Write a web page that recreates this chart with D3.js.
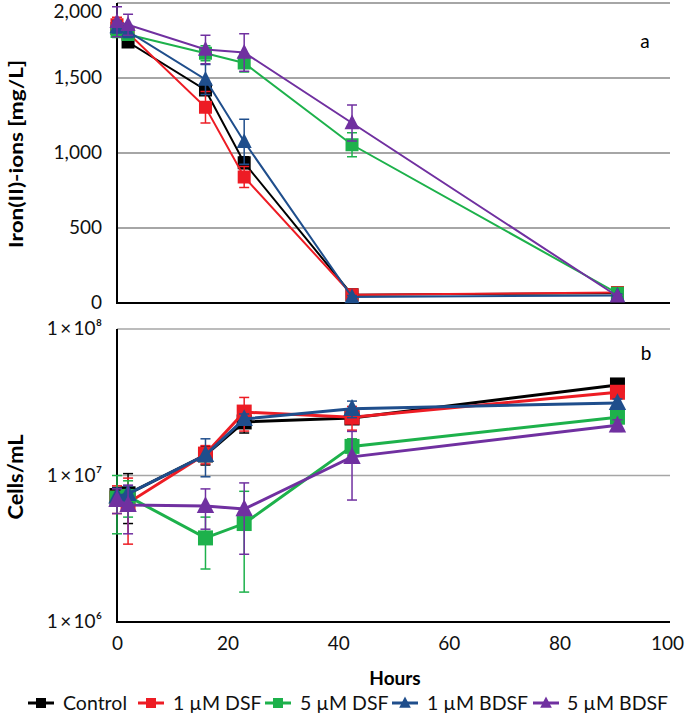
<!DOCTYPE html>
<html><head><meta charset="utf-8">
<script src="https://cdn.jsdelivr.net/npm/d3@7/dist/d3.min.js"></script>
<style>
body{margin:0;background:#fff;}
text{font-family:Lato,"Open Sans",sans-serif;}
</style></head>
<body><svg id="c" width="685" height="718"></svg>
<script>
const hours = [0, 2, 16, 23, 42.5, 90.5];
const seriesNames = ["Control", "1 µM DSF", "5 µM DSF", "1 µM BDSF", "5 µM BDSF"];
const seriesColors = ["#000000", "#ED1C24", "#1DB14B", "#1F4E8C", "#7030A0"];
const seriesShapes = ["square", "square", "square", "triangle", "triangle"];

const ironControl = [1830, 1740, 1420, 935, 55, 65];
const ironDSF1    = [1855, 1800, 1305, 840, 55, 70];
const ironDSF5    = [1810, 1790, 1665, 1600, 1055, 65];
const ironBDSF1   = [1840, 1810, 1490, 1075, 40, 50];
const ironBDSF5   = [1875, 1855, 1690, 1670, 1200, 45];
const ironErrControl = [40, 30, 30, 40, 10, 10];
const ironErrDSF1    = [50, 40, 105, 70, 10, 10];
const ironErrDSF5    = [40, 30, 50, 60, 80, 10];
const ironErrBDSF1   = [40, 40, 100, 150, 10, 10];
const ironErrBDSF5   = [100, 70, 95, 125, 120, 10];

const cellsControl = [7.3e6, 7.5e6, 1.38e7, 2.32e7, 2.47e7, 4.15e7];
const cellsDSF1    = [7.0e6, 6.5e6, 1.40e7, 2.71e7, 2.50e7, 3.70e7];
const cellsDSF5    = [7.0e6, 7.2e6, 3.75e6, 4.7e6, 1.58e7, 2.50e7];
const cellsBDSF1   = [7.2e6, 7.5e6, 1.38e7, 2.43e7, 2.85e7, 3.13e7];
const cellsBDSF5   = [6.8e6, 6.3e6, 6.2e6, 5.9e6, 1.34e7, 2.20e7];
const cellsErrControl = [1.0e6, 2.8e6, 2.0e6, 3.7e6, 2.0e6, 2.0e6];
const cellsErrDSF1    = [1.5e6, 3.1e6, 2.0e6, 7.0e6, 4.6e6, 2.0e6];
const cellsErrDSF5    = [3.0e6, 2.0e6, 1.45e6, 3.1e6, 2.0e6, 2.0e6];
const cellsErrBDSF1   = [1.0e6, 1.0e6, 4.0e6, 2.0e6, 3.7e6, 2.0e6];
const cellsErrBDSF5   = [1.3e6, 2.3e6, 1.9e6, 3.0e6, 6.6e6, 2.0e6];

const xTicks = [0, 20, 40, 60, 80, 100];
const ironTicks = [0, 500, 1000, 1500, 2000];
const cellTicks = [1e6, 1e7, 1e8];
const cellTickLabels = ["1\u2009×\u200910⁶", "1\u2009×\u200910⁷", "1\u2009×\u200910⁸"];

const ironSeries = [ironControl, ironDSF1, ironDSF5, ironBDSF1, ironBDSF5];
const ironErrs = [ironErrControl, ironErrDSF1, ironErrDSF5, ironErrBDSF1, ironErrBDSF5];
const cellSeries = [cellsControl, cellsDSF1, cellsDSF5, cellsBDSF1, cellsBDSF5];
const cellErrs = [cellsErrControl, cellsErrDSF1, cellsErrDSF5, cellsErrBDSF1, cellsErrBDSF5];

const FS = 19;
const svg = d3.select("#c");
const x = d3.scaleLinear().domain([0, 100]).range([117, 670]);
const yIron = d3.scaleLinear().domain([0, 2000]).range([303, 3]);
const yCells = d3.scaleLog().domain([1e6, 1e8]).range([622, 329]);

function marker(g, shape, color, cx, cy, s) {
  if (shape === "square") {
    g.append("rect").attr("x", cx - s/2).attr("y", cy - s/2).attr("width", s).attr("height", s).attr("fill", color);
  } else {
    const h = s * 1.05;
    g.append("path").attr("d", `M${cx},${cy - h*0.62}L${cx + s*0.58},${cy + h*0.45}L${cx - s*0.58},${cy + h*0.45}Z`).attr("fill", color);
  }
}

function panel(y, ticks, labels, series, errs, lw, gridW, ms) {
  const g = svg.append("g");
  g.selectAll("line.grid").data(ticks.slice(1)).join("line")
    .attr("x1", x(0)).attr("x2", x(100)).attr("y1", d => y(d)).attr("y2", d => y(d))
    .attr("stroke", "#a6a6a6").attr("stroke-width", gridW);
  const ax = g.append("g").attr("transform", `translate(${x(0)},0)`)
    .call(d3.axisLeft(y).tickValues(ticks).tickSize(0).tickPadding(15).tickFormat((d, i) => labels[i]));
  ax.select(".domain").remove();
  ax.selectAll(".tick").attr("transform", d => `translate(0,${Math.max(y(d), 12)})`);
  ax.selectAll("text").attr("font-size", FS).attr("fill", "#111").style("font-family", "Lato, 'Open Sans', sans-serif");
  const r = y.range();
  g.append("line").attr("x1", x(0)).attr("x2", x(0)).attr("y1", r[0] + 1).attr("y2", r[1]).attr("stroke", "#000").attr("stroke-width", 2);
  g.append("line").attr("x1", x(0) - 1).attr("x2", x(100)).attr("y1", r[0]).attr("y2", r[0]).attr("stroke", "#000").attr("stroke-width", 2);
  series.forEach((vals, si) => {
    const color = seriesColors[si];
    const sg = g.append("g");
    const line = d3.line().x((d, i) => x(hours[i])).y(d => y(d));
    sg.append("path").attr("d", line(vals)).attr("fill", "none").attr("stroke", color).attr("stroke-width", lw);
    vals.forEach((v, i) => {
      const e = errs[si][i];
      const cx = x(hours[i]);
      const y1 = y(v + e), y0 = y(Math.max(v - e, y.domain()[0]));
      sg.append("line").attr("x1", cx).attr("x2", cx).attr("y1", y1).attr("y2", y0).attr("stroke", color).attr("stroke-width", 1.5);
      [y1, y0].forEach(yy => sg.append("line").attr("x1", cx - 5).attr("x2", cx + 5).attr("y1", yy).attr("y2", yy).attr("stroke", color).attr("stroke-width", 1.5));
    });
    vals.forEach((v, i) => marker(sg, seriesShapes[si], color, x(hours[i]), y(v), ms));
  });
  return g;
}

panel(yIron, ironTicks, ironTicks.map(d3.format(",")), ironSeries, ironErrs, 2, 2.2, 13);
panel(yCells, cellTicks, cellTickLabels, cellSeries, cellErrs, 3, 1.6, 15);

const xa = svg.append("g").attr("transform", `translate(0,622)`)
  .call(d3.axisBottom(x).tickValues(xTicks).tickSize(0).tickPadding(15).tickFormat(d3.format("d")));
xa.select(".domain").remove();
xa.selectAll("text").attr("font-size", FS).attr("fill", "#111").style("font-family", "Lato, 'Open Sans', sans-serif")
  .attr("dx", d => d === 100 ? -3 : 0);

svg.append("text").attr("transform", "translate(23,154) rotate(-90)").attr("text-anchor", "middle")
  .attr("font-size", 19.5).attr("font-weight", "bold").attr("textLength", 188).attr("lengthAdjust", "spacingAndGlyphs")
  .text("Iron(II)-ions [mg/L]");
svg.append("text").attr("transform", "translate(23,477) rotate(-90)").attr("text-anchor", "middle")
  .attr("font-size", 21).attr("font-weight", "bold").attr("textLength", 85).attr("lengthAdjust", "spacingAndGlyphs")
  .text("Cells/mL");
svg.append("text").attr("x", 395).attr("y", 685).attr("text-anchor", "middle")
  .attr("font-size", 19).attr("font-weight", "bold").text("Hours");
svg.append("text").attr("x", 645).attr("y", 48).attr("text-anchor", "middle").attr("font-size", FS).text("a");
svg.append("text").attr("x", 646).attr("y", 360).attr("text-anchor", "middle").attr("font-size", FS).text("b");

const legX = [28, 138, 265, 392, 533];
const legT = [63, 173, 300, 427, 567];
const lg = svg.append("g");
seriesNames.forEach((n, i) => {
  const lx = legX[i], ly = 703;
  lg.append("line").attr("x1", lx).attr("x2", lx + 26).attr("y1", ly).attr("y2", ly).attr("stroke", seriesColors[i]).attr("stroke-width", 3);
  marker(lg, seriesShapes[i], seriesColors[i], lx + 13, ly, 10);
  lg.append("text").attr("x", legT[i]).attr("y", ly + 7).attr("font-size", 19.5).attr("fill", "#111").text(n);
});
</script></body></html>
